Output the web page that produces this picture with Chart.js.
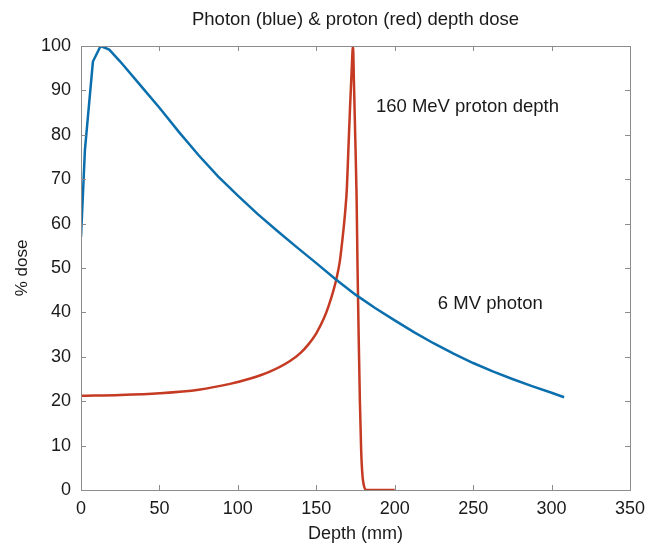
<!DOCTYPE html>
<html>
<head>
<meta charset="utf-8">
<script src="https://cdn.jsdelivr.net/npm/chart.js@4"></script>
<style>
  body { margin: 0; background: #fff; }
</style>
</head>
<body>
<canvas id="chart" width="661" height="545"></canvas>
<script>
// photon depth dose (6 MV)
const photonDepth = [0, 2.5, 7.6, 12.5, 18, 25, 37.5, 50, 62.5, 75, 87.5, 100, 112.5, 125, 137.5, 150, 162.5, 175, 187.5, 200, 212.5, 225, 237.5, 250, 262.5, 275, 287.5, 300, 308];
const photonDose  = [57, 76.6, 96.5, 100, 99.2, 96.5, 91.3, 86.1, 80.6, 75.4, 70.6, 66.3, 62.2, 58.4, 54.7, 51.1, 47.4, 44.0, 41.0, 38.2, 35.5, 33.0, 30.7, 28.6, 26.7, 25.0, 23.4, 21.9, 20.9];

// proton depth dose (160 MeV)
const protonDepth = [0, 25, 50, 75, 95, 108, 120, 133, 140, 145, 150, 155, 158, 161, 163, 165, 167, 168.5, 169.5, 170.5, 171.5, 172.5, 173.4, 174, 174.8, 175.7, 176.3, 177, 177.8, 178.6, 179.5, 180.5, 182, 200];
const protonDose  = [21.2, 21.4, 21.8, 22.6, 23.9, 25.1, 26.6, 29, 30.9, 32.8, 35.3, 38.8, 41.6, 45, 47.8, 51.5, 57.5, 63, 68, 77, 86, 94, 100, 92, 80, 66, 50, 35, 20, 9, 3, 0.8, 0, 0];

const xTicks = [0, 50, 100, 150, 200, 250, 300, 350];
const yTicks = [0, 10, 20, 30, 40, 50, 60, 70, 80, 90, 100];

const notes = [
  { text: '160 MeV proton depth', x: 188, y: 86.3 },
  { text: '6 MV photon', x: 227.5, y: 41.9 }
];

const FONT = '"Liberation Sans", Arial, Helvetica, sans-serif';

function toPoints(xs, ys) {
  return xs.map((x, i) => ({ x: x, y: ys[i] }));
}

// box, inward ticks, title and text notes (MATLAB look)
const boxPlugin = {
  id: 'box',
  afterDraw(chart) {
    const ctx = chart.ctx;
    const a = chart.chartArea;
    const xs = chart.scales.x, ys = chart.scales.y;
    ctx.save();
    ctx.strokeStyle = '#8c8c8c';
    ctx.lineWidth = 1;
    ctx.strokeRect(a.left + 0.5, a.top + 0.5, a.right - a.left, a.bottom - a.top);
    ctx.beginPath();
    xTicks.forEach(v => {
      const px = Math.round(xs.getPixelForValue(v)) + 0.5;
      ctx.moveTo(px, a.bottom); ctx.lineTo(px, a.bottom - 5);
      ctx.moveTo(px, a.top); ctx.lineTo(px, a.top + 5);
    });
    yTicks.forEach(v => {
      const py = Math.round(ys.getPixelForValue(v)) + 0.5;
      ctx.moveTo(a.left, py); ctx.lineTo(a.left + 5, py);
      ctx.moveTo(a.right, py); ctx.lineTo(a.right - 5, py);
    });
    ctx.stroke();

    ctx.fillStyle = '#1a1a1a';
    ctx.font = '18.5px ' + FONT;
    ctx.textAlign = 'center';
    ctx.textBaseline = 'middle';
    ctx.fillText('Photon (blue) & proton (red) depth dose', (a.left + a.right) / 2, 20);

    ctx.font = '18.5px ' + FONT;
    ctx.textAlign = 'left';
    notes.forEach(n => {
      ctx.fillText(n.text, xs.getPixelForValue(n.x), ys.getPixelForValue(n.y));
    });
    ctx.restore();
  }
};

new Chart(document.getElementById('chart'), {
  type: 'scatter',
  data: {
    datasets: [
      {
        label: '6 MV photon',
        data: toPoints(photonDepth, photonDose),
        showLine: true,
        borderColor: '#0b6fae',
        borderWidth: 2.5,
        pointRadius: 0,
        tension: 0
      },
      {
        label: '160 MeV proton',
        data: toPoints(protonDepth, protonDose),
        showLine: true,
        borderColor: '#c43a22',
        borderWidth: 2.5,
        pointRadius: 0,
        cubicInterpolationMode: 'monotone'
      }
    ]
  },
  options: {
    responsive: false,
    animation: false,
    layout: { padding: { top: 46, right: 31, left: 0, bottom: 0 } },
    plugins: {
      legend: { display: false },
      title: { display: false },
      tooltip: { enabled: false }
    },
    scales: {
      x: {
        type: 'linear',
        min: 0,
        max: 350,
        afterFit: s => { s.height = 55; },
        afterBuildTicks: s => { s.ticks = xTicks.map(v => ({ value: v })); },
        grid: { display: false, drawTicks: false },
        border: { display: false },
        ticks: { color: '#1a1a1a', font: { family: FONT, size: 18 }, padding: 8, maxRotation: 0 },
        title: { display: true, text: 'Depth (mm)', color: '#1a1a1a', font: { family: FONT, size: 18 }, padding: { top: 0, bottom: 0 } }
      },
      y: {
        type: 'linear',
        min: 0,
        max: 100,
        afterFit: s => { s.width = 81; },
        afterBuildTicks: s => { s.ticks = yTicks.map(v => ({ value: v })); },
        grid: { display: false, drawTicks: false },
        border: { display: false },
        ticks: { color: '#1a1a1a', font: { family: FONT, size: 18 }, padding: 10 },
        title: { display: true, text: '% dose', color: '#1a1a1a', font: { family: FONT, size: 17 }, padding: { top: 12, bottom: 0 } }
      }
    }
  },
  plugins: [boxPlugin]
});
</script>
</body>
</html>
